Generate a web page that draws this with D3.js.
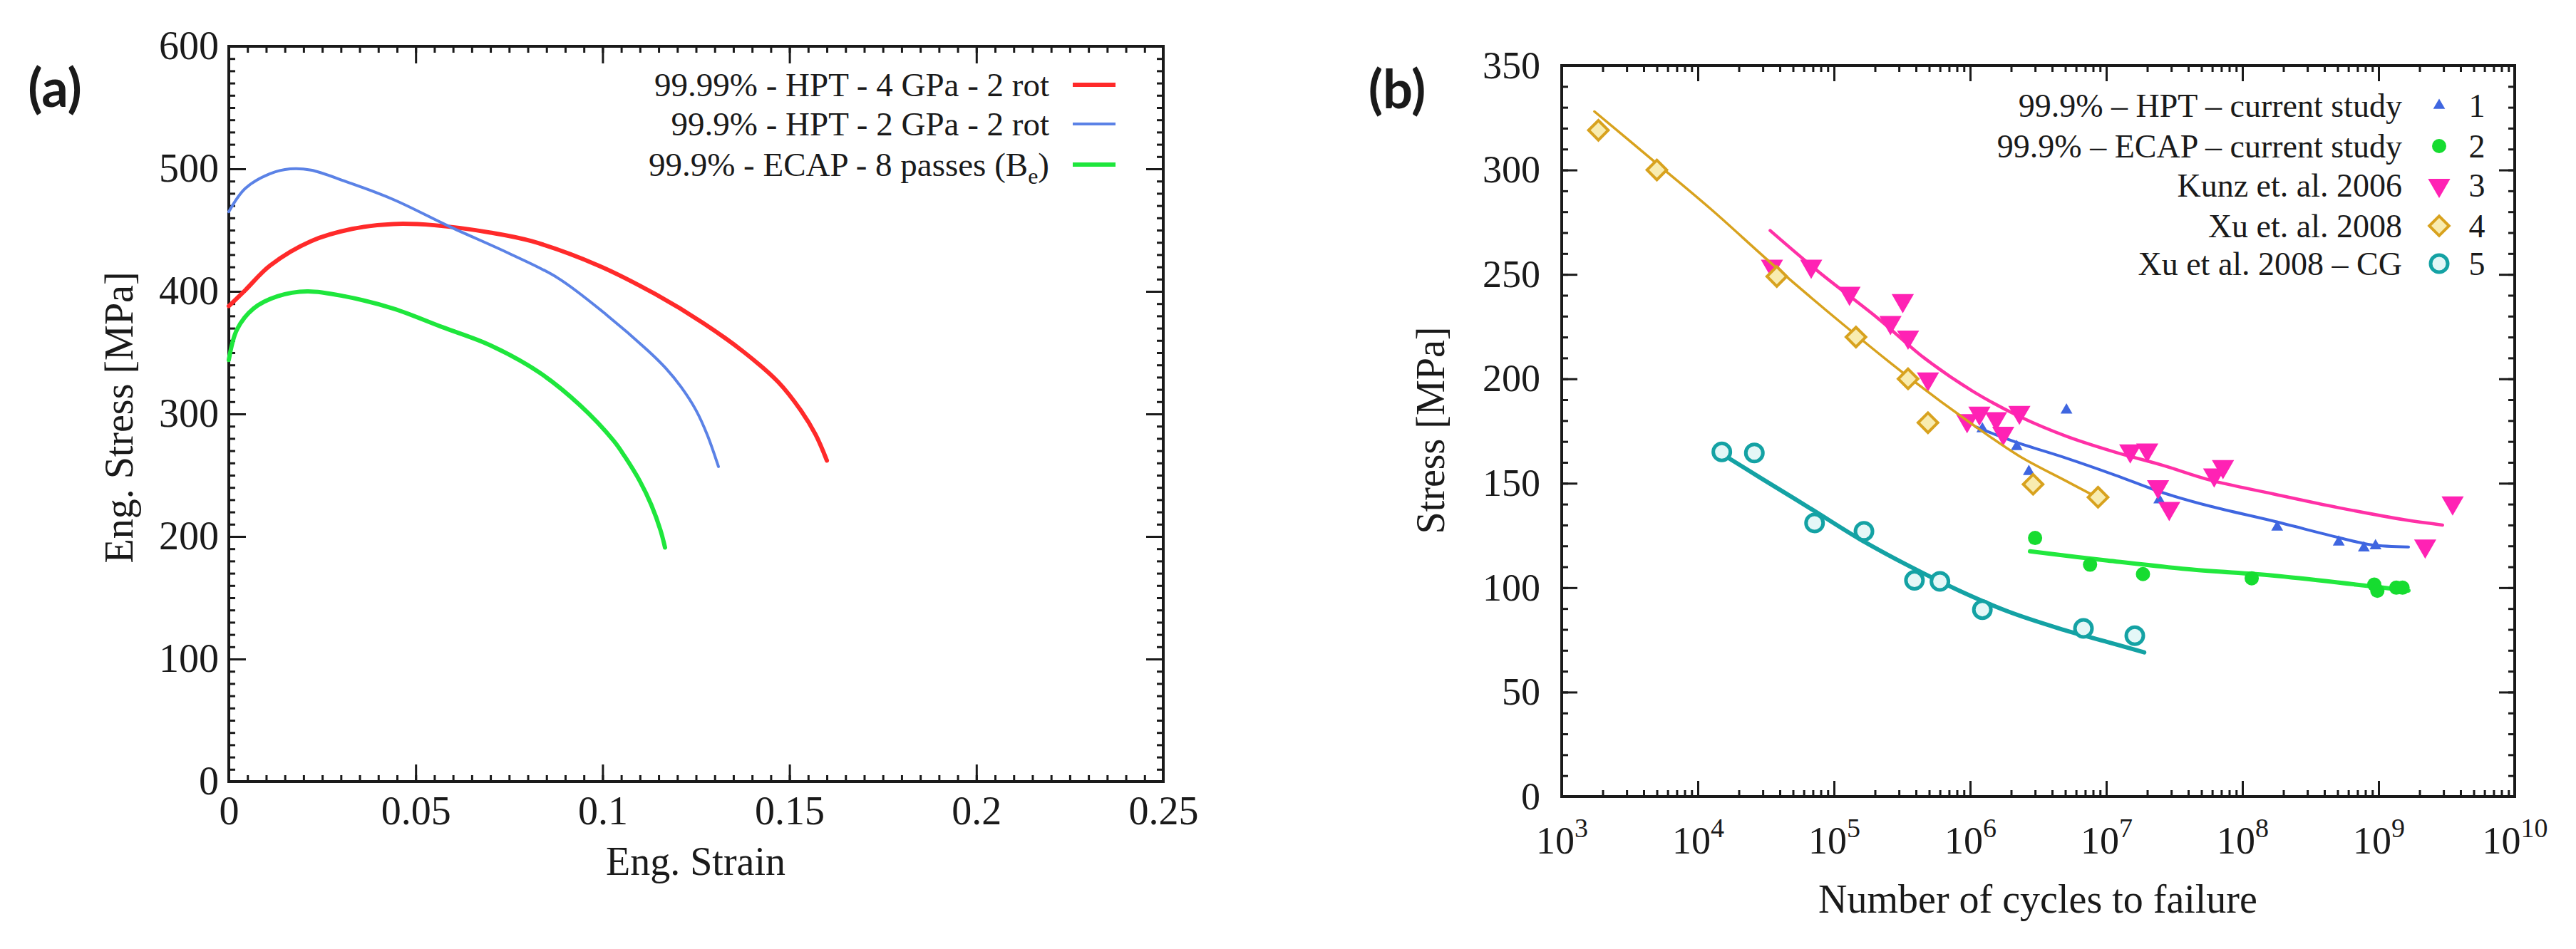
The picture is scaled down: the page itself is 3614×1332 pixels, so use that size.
<!DOCTYPE html>
<html>
<head>
<meta charset="utf-8">
<script src="https://cdn.jsdelivr.net/npm/d3@7"></script>
<style>
  body { margin: 0; background: #fff; }
  svg text { font-family: "Liberation Serif", "DejaVu Serif", serif; fill: #1a1a1a; }
</style>
</head>
<body>
<script>
// ---- panel (a) data: tensile curves [strain, stress MPa] ----
const strainTicks = [0, 0.05, 0.1, 0.15, 0.2, 0.25];
const stressTicksA = [0, 100, 200, 300, 400, 500, 600];

const hpt4 = [[0, 388], [0.0044, 401], [0.011, 421], [0.022, 441], [0.033, 451], [0.044, 455],
  [0.055, 454], [0.070, 448], [0.081, 441], [0.099, 421], [0.114, 398], [0.127, 374],
  [0.138, 350], [0.147, 326], [0.153, 303], [0.157, 283], [0.160, 262]];
const hpt2 = [[0, 465], [0.0044, 484], [0.011, 496], [0.0164, 500], [0.022, 499], [0.031, 490],
  [0.044, 475], [0.059, 453], [0.075, 431], [0.088, 411], [0.101, 381], [0.112, 352],
  [0.117, 337], [0.121, 322], [0.125, 303], [0.128, 283], [0.131, 257]];
const ecap8 = [[0, 344], [0.0022, 369], [0.0066, 386], [0.013, 396], [0.021, 400], [0.031, 396],
  [0.044, 386], [0.057, 371], [0.070, 356], [0.083, 334], [0.094, 307], [0.103, 278],
  [0.106, 265], [0.110, 245], [0.113, 226], [0.1155, 205], [0.1167, 191]];

const legendA = ["99.99% - HPT - 4 GPa - 2 rot", "99.9% - HPT - 2 GPa - 2 rot", "99.9% - ECAP - 8 passes (B"];

// ---- panel (b) data: S-N points [cycles, stress MPa] and fit curves ----
const cycleExps = [3, 4, 5, 6, 7, 8, 9, 10];
const stressTicksB = [0, 50, 100, 150, 200, 250, 300, 350];

const hptPts = [[1.23e6, 176], [2.2e6, 167.5], [2.7e6, 155.6], [5.1e6, 185], [2.45e7, 142],
  [1.8e8, 129], [5.1e8, 121.8], [7.8e8, 119], [9.5e8, 120]];
const hptFit = [[1.1e6, 177], [2.1e6, 170], [5.1e6, 162], [1.15e7, 154], [2.6e7, 145.5],
  [5.8e7, 139], [1.66e8, 132], [5.1e8, 124], [8.9e8, 120.5], [1.66e9, 119.5]];

const ecapPts = [[3.0e6, 123.8], [7.6e6, 111], [1.86e7, 106.5], [1.17e8, 104.5], [9.3e8, 101.5],
  [9.8e8, 98.5], [1.35e9, 100], [1.5e9, 100]];
const ecapFit = [[2.75e6, 117.4], [1.02e7, 113], [4.2e7, 108.7], [1.66e8, 105.8], [6.8e8, 101.5],
  [1.66e9, 98.6]];

const kunzPts = [[3.5e4, 254], [6.8e4, 254], [1.3e5, 241], [2.6e5, 227], [3.2e5, 237.5], [3.5e5, 220],
  [4.9e5, 200], [9.5e5, 180], [1.17e6, 183.6], [1.55e6, 181], [1.75e6, 174], [2.3e6, 184],
  [1.5e7, 165.5], [2.0e7, 166], [2.4e7, 148.4], [2.9e7, 138], [6.2e7, 154], [7.2e7, 158],
  [2.2e9, 120], [3.5e9, 140.6]];
const kunzFit = [[3.4e4, 271], [7.8e4, 251], [2.1e5, 229], [4.6e5, 210], [1.05e6, 194], [2.3e6, 182],
  [5.1e6, 172.5], [1.15e7, 165], [2.6e7, 158.6], [5.8e7, 151.5], [1.66e8, 145], [5.1e8, 138.3],
  [1.55e9, 132.5], [2.95e9, 130]];

const xuPts = [[1.86e3, 319], [5.0e3, 300], [3.8e4, 249], [1.45e5, 220], [3.5e5, 200], [4.9e5, 179],
  [2.9e6, 149.5], [8.7e6, 143.3]];
const xuFit = [[1.74e3, 328], [4.8e3, 304], [1.26e4, 281], [3.8e4, 253], [1.17e5, 226], [3.5e5, 201],
  [1.05e6, 178], [2.3e6, 163], [5.1e6, 151], [8.7e6, 143]];

const xuCgPts = [[1.5e4, 165], [2.6e4, 164.5], [7.2e4, 131], [1.66e5, 127], [3.9e5, 103.5], [6.0e5, 103],
  [1.23e6, 89.5], [6.8e6, 80.5], [1.62e7, 77]];
const xuCgFit = [[1.4e4, 165.3], [2.95e4, 152.2], [6.8e4, 137.7], [1.55e5, 123.2], [3.6e5, 110.2],
  [8.3e5, 98.6], [1.9e6, 88.6], [4.5e6, 80.5], [1.02e7, 74], [1.9e7, 69]];

const legendB = ["99.9% \u2013 HPT \u2013 current study", "99.9% \u2013 ECAP \u2013 current study",
  "Kunz et. al. 2006", "Xu et. al. 2008", "Xu et al. 2008 \u2013 CG"];

// ---- canvas ----
const svg = d3.select("body").append("svg")
  .attr("width", 3614)
  .attr("height", 1332);

// draws inward ticks on all four sides plus the frame
function drawFrame(g, x, y, o) {
  const [x0, x1] = x.range();
  const [y0, y1] = y.range();

  function styleTicks(sel, w) {
    sel.select(".domain").remove();
    sel.selectAll(".tick line").attr("stroke", "#1a1a1a").attr("stroke-width", w);
  }

  // minor ticks
  g.append("g").attr("transform", `translate(0,${y0})`)
    .call(d3.axisBottom(x).tickValues(o.xMinor).tickSize(-o.minLen).tickSizeOuter(0).tickFormat(""))
    .call(s => styleTicks(s, 3));
  g.append("g").attr("transform", `translate(0,${y1})`)
    .call(d3.axisTop(x).tickValues(o.xMinor).tickSize(-o.minLen).tickSizeOuter(0).tickFormat(""))
    .call(s => styleTicks(s, 3));
  g.append("g").attr("transform", `translate(${x0},0)`)
    .call(d3.axisLeft(y).tickValues(o.yMinor).tickSize(-o.minLen).tickSizeOuter(0).tickFormat(""))
    .call(s => styleTicks(s, 3));
  g.append("g").attr("transform", `translate(${x1},0)`)
    .call(d3.axisRight(y).tickValues(o.yMinor).tickSize(-o.minLen).tickSizeOuter(0).tickFormat(""))
    .call(s => styleTicks(s, 3));

  // major ticks with labels
  const bottom = g.append("g").attr("transform", `translate(0,${y0})`)
    .call(d3.axisBottom(x).tickValues(o.xMajor).tickSize(-o.majLen).tickSizeOuter(0)
      .tickPadding(o.xPad).tickFormat(o.xFmt))
    .call(s => styleTicks(s, 3));
  bottom.selectAll(".tick text").attr("font-size", o.fontSize).attr("fill", "#1a1a1a");

  g.append("g").attr("transform", `translate(0,${y1})`)
    .call(d3.axisTop(x).tickValues(o.xMajor).tickSize(-o.majLen).tickSizeOuter(0).tickFormat(""))
    .call(s => styleTicks(s, 3));

  const left = g.append("g").attr("transform", `translate(${x0},0)`)
    .call(d3.axisLeft(y).tickValues(o.yMajor).tickSize(-o.majLen).tickSizeOuter(0)
      .tickPadding(o.yPad).tickFormat(d3.format("d")))
    .call(s => styleTicks(s, 3));
  left.selectAll(".tick text").attr("font-size", o.fontSize).attr("fill", "#1a1a1a");

  g.append("g").attr("transform", `translate(${x1},0)`)
    .call(d3.axisRight(y).tickValues(o.yMajor).tickSize(-o.majLen).tickSizeOuter(0).tickFormat(""))
    .call(s => styleTicks(s, 3));

  g.append("rect")
    .attr("x", x0).attr("y", y1)
    .attr("width", x1 - x0).attr("height", y0 - y1)
    .attr("fill", "none")
    .attr("stroke", "#1a1a1a")
    .attr("stroke-width", 4);

  return bottom;
}

// =========================== panel (a) ===========================
const xA = d3.scaleLinear().domain([0, 0.25]).range([321, 1632]);
const yA = d3.scaleLinear().domain([0, 600]).range([1097, 65]);
const gA = svg.append("g");

drawFrame(gA, xA, yA, {
  xMajor: strainTicks,
  xMinor: d3.range(0, 0.2501, 0.005),
  yMajor: stressTicksA,
  yMinor: d3.range(0, 601, 10),
  majLen: 24, minLen: 9,
  xPad: 20, yPad: 14,
  fontSize: 56,
  xFmt: d => String(d)
});

const lineA = d3.line().x(d => xA(d[0])).y(d => yA(d[1])).curve(d3.curveCatmullRom.alpha(0.5));
const curvesA = [
  { data: hpt4, color: "#ff2a2a", w: 6 },
  { data: hpt2, color: "#5b82e6", w: 4 },
  { data: ecap8, color: "#1ee63c", w: 6 }
];
curvesA.forEach(c => {
  gA.append("path")
    .attr("d", lineA(c.data))
    .attr("fill", "none")
    .attr("stroke", c.color)
    .attr("stroke-width", c.w)
    .attr("stroke-linecap", "round");
});

// legend (a)
const legARows = [119, 174, 231];
legendA.forEach((t, i) => {
  const txt = gA.append("text")
    .attr("x", 1472).attr("y", legARows[i])
    .attr("dy", "0.35em")
    .attr("text-anchor", "end")
    .attr("font-size", 47)
    .text(t);
  if (i === 2) {
    txt.append("tspan").attr("dy", 11).attr("font-size", 32).text("e");
    txt.append("tspan").attr("dy", -11).text(")");
  }
  gA.append("line")
    .attr("x1", 1505).attr("x2", 1565)
    .attr("y1", legARows[i]).attr("y2", legARows[i])
    .attr("stroke", curvesA[i].color)
    .attr("stroke-width", curvesA[i].w);
});

gA.append("text")
  .attr("transform", "translate(166,586) rotate(-90)")
  .attr("dy", "0.35em")
  .attr("text-anchor", "middle")
  .attr("font-size", 56)
  .text("Eng. Stress [MPa]");

gA.append("text")
  .attr("x", 976).attr("y", 1208)
  .attr("dy", "0.35em")
  .attr("text-anchor", "middle")
  .attr("font-size", 56)
  .text("Eng. Strain");

svg.append("text")
  .attr("x", 77).attr("y", 124)
  .attr("dy", "0.35em")
  .attr("text-anchor", "middle")
  .attr("font-size", 74)
  .attr("font-weight", "bold")
  .style("font-family", "Lato, 'Open Sans', sans-serif")
  .text("(a)");

// =========================== panel (b) ===========================
const xB = d3.scaleLog().domain([1e3, 1e10]).range([2191, 3528]);
const yB = d3.scaleLinear().domain([0, 350]).range([1118, 92]);
const gB = svg.append("g");

const minorCycles = [];
cycleExps.slice(0, -1).forEach(k => {
  for (let m = 2; m <= 9; m++) minorCycles.push(m * Math.pow(10, k));
});

const bottomB = drawFrame(gB, xB, yB, {
  xMajor: cycleExps.map(k => Math.pow(10, k)),
  xMinor: minorCycles,
  yMajor: stressTicksB,
  yMinor: d3.range(0, 351, 10),
  majLen: 22, minLen: 9,
  xPad: 42, yPad: 30,
  fontSize: 54,
  xFmt: d => ""
});

// power-of-ten labels with superscripts
bottomB.selectAll(".tick text").each(function (d) {
  const t = d3.select(this);
  t.text(null);
  t.append("tspan").text("10");
  t.append("tspan")
    .attr("dy", "-0.62em")
    .attr("font-size", 38)
    .text(Math.round(Math.log10(d)));
});

const lineB = d3.line().x(d => xB(d[0])).y(d => yB(d[1])).curve(d3.curveCatmullRom.alpha(0.5));
const seriesB = [
  { pts: hptPts, fit: hptFit, color: "#3f66e0", lw: 4, mark: "tri" },
  { pts: ecapPts, fit: ecapFit, color: "#22e83e", lw: 6, mark: "dot" },
  { pts: kunzPts, fit: kunzFit, color: "#ff30a6", lw: 4.5, mark: "tridown" },
  { pts: xuPts, fit: xuFit, color: "#d8a21e", lw: 3.5, mark: "diamond" },
  { pts: xuCgPts, fit: xuCgFit, color: "#14a2a4", lw: 6, mark: "ring" }
];

const triUp = d3.symbol().type(d3.symbolTriangle).size(120);
const triDown = d3.symbol().type(d3.symbolTriangle).size(420);
const diamond = d3.symbol().type(d3.symbolSquare).size(380);

function drawMark(g, kind, color, cx, cy) {
  if (kind === "tri") {
    g.append("path").attr("d", triUp()).attr("transform", `translate(${cx},${cy})`)
      .attr("fill", color);
  } else if (kind === "tridown") {
    g.append("path").attr("d", triDown()).attr("transform", `translate(${cx},${cy}) rotate(180)`)
      .attr("fill", "#ff22b4");
  } else if (kind === "diamond") {
    g.append("path").attr("d", diamond()).attr("transform", `translate(${cx},${cy}) rotate(45)`)
      .attr("fill", "#f8ecb0").attr("stroke", color).attr("stroke-width", 4);
  } else if (kind === "dot") {
    g.append("circle").attr("cx", cx).attr("cy", cy).attr("r", 10).attr("fill", "#16dc30");
  } else {
    g.append("circle").attr("cx", cx).attr("cy", cy).attr("r", 12)
      .attr("fill", "#e4f7f7").attr("stroke", color).attr("stroke-width", 5);
  }
}

seriesB.forEach(s => {
  gB.append("path")
    .attr("d", lineB(s.fit))
    .attr("fill", "none")
    .attr("stroke", s.color)
    .attr("stroke-width", s.lw)
    .attr("stroke-linecap", "round");
  s.pts.forEach(p => drawMark(gB, s.mark, s.color, xB(p[0]), yB(p[1])));
});

// legend (b)
const legBRows = [148, 205, 260, 317, 370];
legendB.forEach((t, i) => {
  gB.append("text")
    .attr("x", 3370).attr("y", legBRows[i])
    .attr("dy", "0.35em")
    .attr("text-anchor", "end")
    .attr("font-size", 46)
    .text(t);
  drawMark(gB, seriesB[i].mark, seriesB[i].color, 3422, legBRows[i]);
  gB.append("text")
    .attr("x", 3475).attr("y", legBRows[i])
    .attr("dy", "0.35em")
    .attr("text-anchor", "middle")
    .attr("font-size", 46)
    .text(i + 1);
});

gB.append("text")
  .attr("transform", "translate(2006,604) rotate(-90)")
  .attr("dy", "0.35em")
  .attr("text-anchor", "middle")
  .attr("font-size", 56)
  .text("Stress [MPa]");

gB.append("text")
  .attr("x", 2859).attr("y", 1261)
  .attr("dy", "0.35em")
  .attr("text-anchor", "middle")
  .attr("font-size", 56)
  .text("Number of cycles to failure");

svg.append("text")
  .attr("x", 1960).attr("y", 126)
  .attr("dy", "0.35em")
  .attr("text-anchor", "middle")
  .attr("font-size", 74)
  .attr("font-weight", "bold")
  .style("font-family", "Lato, 'Open Sans', sans-serif")
  .text("(b)");
</script>
</body>
</html>
